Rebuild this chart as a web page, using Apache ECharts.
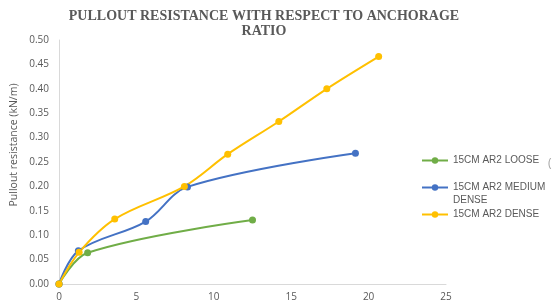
<!DOCTYPE html>
<html>
<head>
    <meta charset="UTF-8">
    <title>Pullout resistance</title>
    <script src="https://cdn.jsdelivr.net/npm/echarts@6/dist/echarts.min.js"></script>
    <style>
        html, body { margin: 0; padding: 0; background: #fff; }
    </style>
</head>
<body>
    <div id="main" style="width:555px;height:303px;"></div>
    <script>
        // data (anchorage ratio, kN/m)
        var looseX = [0, 1.85, 12.5];
        var looseY = [0, 0.064, 0.131];
        var mediumX = [0, 1.25, 5.6, 8.3, 19.15];
        var mediumY = [0, 0.068, 0.128, 0.199, 0.268];
        var denseX = [0, 1.3, 3.6, 8.1, 10.9, 14.2, 17.3, 20.65];
        var denseY = [0, 0.065, 0.133, 0.2, 0.266, 0.333, 0.4, 0.466];

        var seriesNames = ['15CM AR2 LOOSE', '15CM AR2 MEDIUM DENSE', '15CM AR2 DENSE'];
        var colors = ['#70AD47', '#4472C4', '#FFC000'];

        function pairs(xs, ys) {
            var out = [];
            for (var i = 0; i < xs.length; i++) out.push([xs[i], ys[i]]);
            return out;
        }

        var myChart = echarts.init(document.getElementById('main'));
        var labelFont = { color: '#595959', fontSize: 10, fontFamily: 'Open Sans' };

        function line(name, data, color) {
            return {
                name: name,
                type: 'line',
                data: data,
                smooth: 0.35,
                symbol: 'circle',
                symbolSize: 7,
                lineStyle: { color: color, width: 2 },
                itemStyle: { color: color },
                animation: false
            };
        }

        var option = {
            title: {
                text: 'PULLOUT RESISTANCE WITH RESPECT TO ANCHORAGE\nRATIO',
                left: 259,
                textAlign: 'center',
                top: 4,
                textStyle: {
                    fontFamily: 'Liberation Serif',
                    fontWeight: 'bold',
                    fontSize: 14,
                    lineHeight: 15,
                    color: '#595959'
                }
            },
            legend: {
                orient: 'vertical',
                left: 416,
                top: 149,
                itemWidth: 26,
                itemHeight: 8,
                itemGap: 1,
                data: seriesNames,
                // blank first line keeps the icon on the first text row, as in the picture
                formatter: function (n) {
                    return n === '15CM AR2 MEDIUM DENSE' ? ' \n15CM AR2 MEDIUM\nDENSE' : n;
                },
                textStyle: { color: '#595959', fontSize: 10, fontFamily: 'Liberation Sans', lineHeight: 13 }
            },
            grid: { left: 59, top: 40, right: 109, bottom: 19 },
            xAxis: {
                type: 'value',
                min: 0, max: 25, interval: 5,
                axisLine: { lineStyle: { color: '#D9D9D9' } },
                axisTick: { show: false },
                splitLine: { show: false },
                axisLabel: Object.assign({ margin: 8 }, labelFont)
            },
            yAxis: {
                type: 'value',
                min: 0, max: 0.5, interval: 0.05,
                axisLine: { show: true, lineStyle: { color: '#D9D9D9' } },
                axisTick: { show: false },
                splitLine: { show: false },
                axisLabel: Object.assign({
                    margin: 10,
                    formatter: function (v) { return v.toFixed(2); }
                }, labelFont)
            },
            graphic: [{
                type: 'text',
                x: 14,
                y: 145,
                rotation: Math.PI / 2,
                style: {
                    text: 'Pullout resistance (kN/m)',
                    fill: '#595959',
                    font: '10.5px Open Sans',
                    align: 'center',
                    verticalAlign: 'middle'
                }
            }, {
                type: 'text',
                left: 548,
                top: 158,
                style: { text: '(', fill: '#A6A6A6', font: '12px Open Sans' }
            }],
            series: [
                line(seriesNames[0], pairs(looseX, looseY), colors[0]),
                line(seriesNames[1], pairs(mediumX, mediumY), colors[1]),
                line(seriesNames[2], pairs(denseX, denseY), colors[2])
            ]
        };
        myChart.setOption(option);
    </script>
</body>
</html>
